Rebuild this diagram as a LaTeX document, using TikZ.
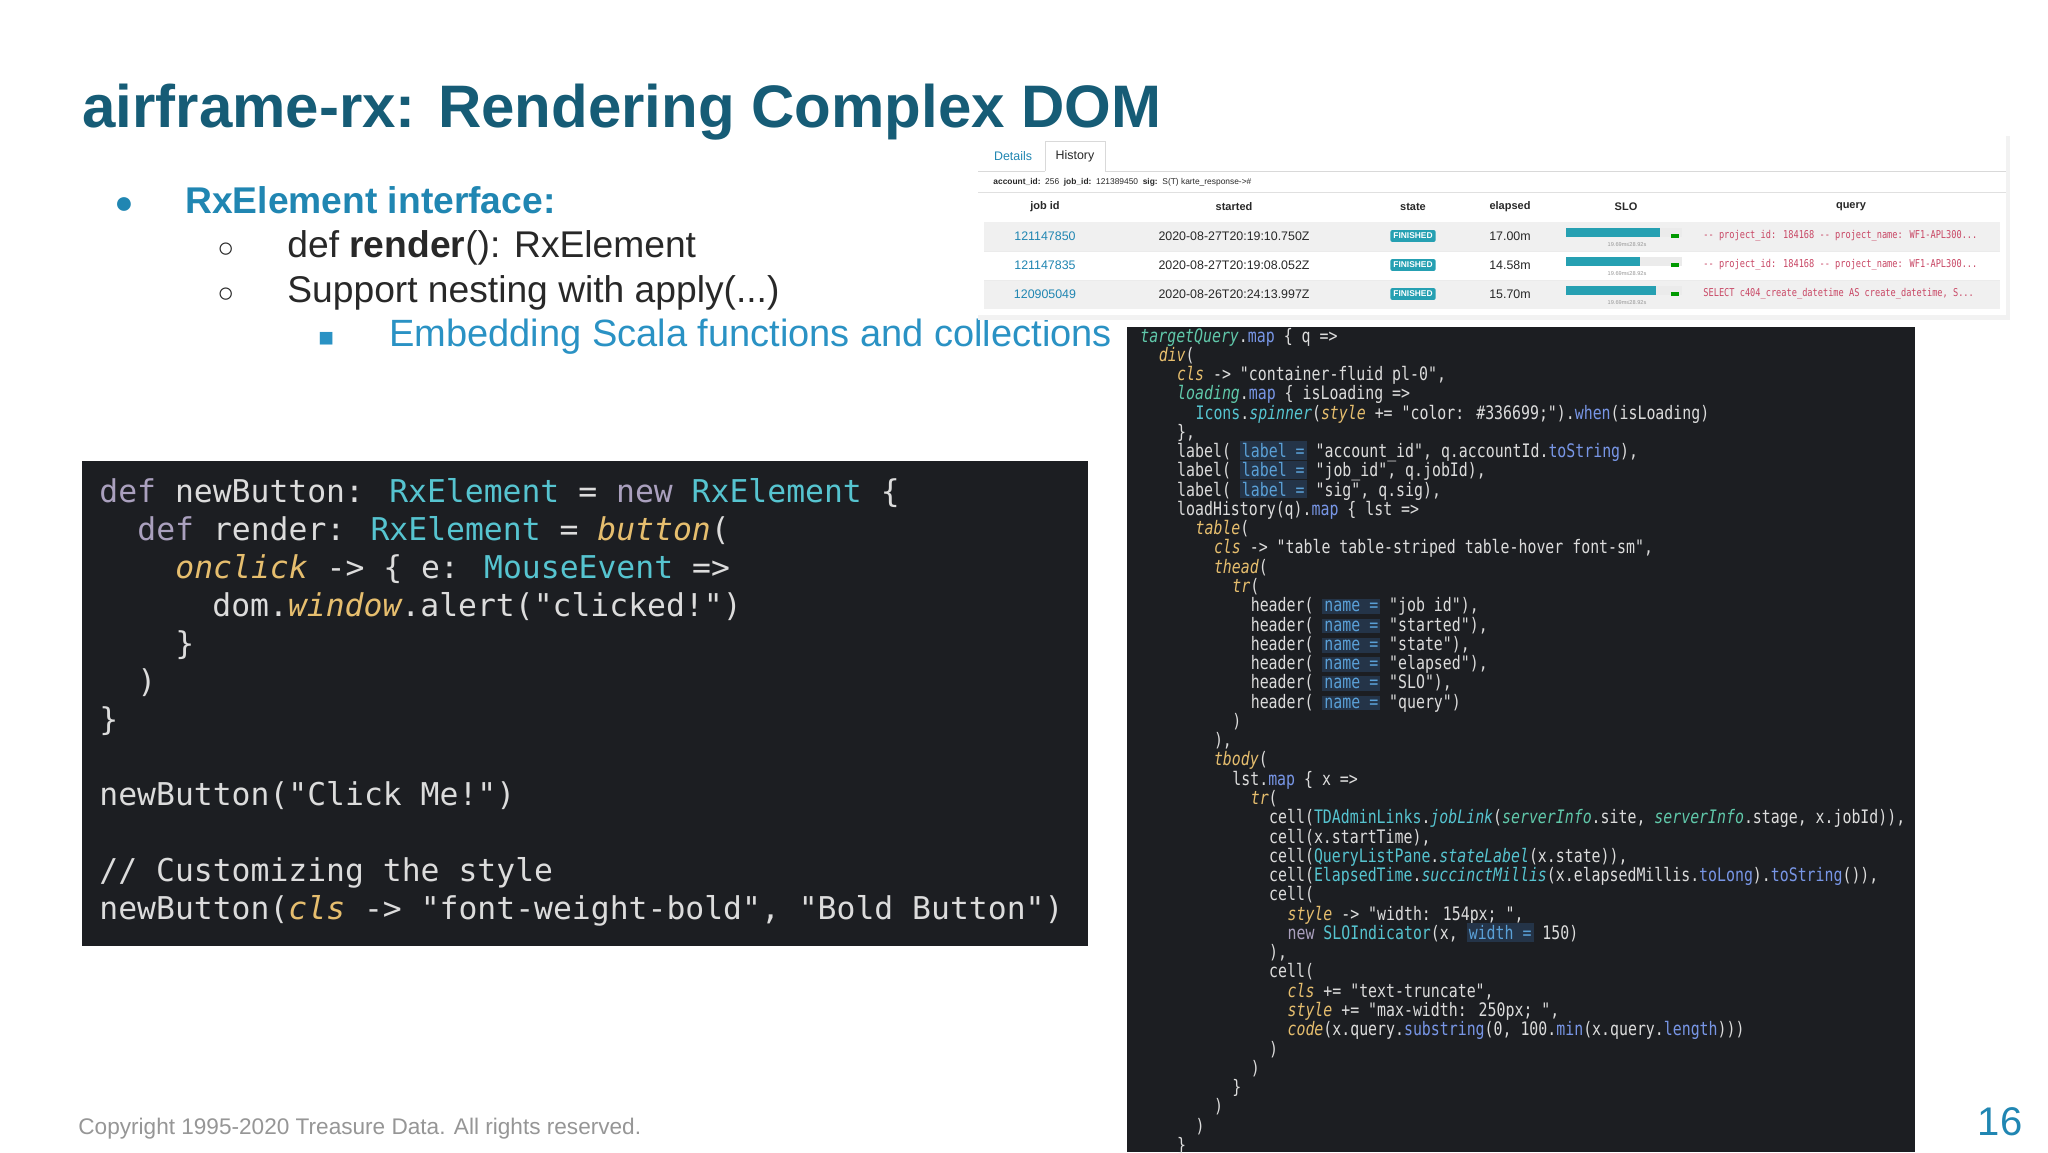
\documentclass[tikz,border=0pt]{standalone}
\usepackage{fontspec}
\setmainfont{Liberation Sans}
\newfontfamily\lmono{DejaVu Sans Mono}
\newfontfamily\rmono[FakeStretch=0.8]{DejaVu Sans Mono}
\definecolor{titlec}{RGB}{22,92,118}
\definecolor{bulc}{RGB}{32,134,178}
\definecolor{subc}{RGB}{42,146,196}
\definecolor{txt}{RGB}{40,40,40}
\definecolor{codebg}{RGB}{28,30,34}
\definecolor{cdef}{RGB}{220,220,220}
\definecolor{ckw}{RGB}{170,160,190}
\definecolor{ccy}{RGB}{86,196,208}
\definecolor{cye}{RGB}{230,190,110}
\definecolor{cgr}{RGB}{96,200,170}
\definecolor{cbl}{RGB}{120,150,230}
\definecolor{hlbg}{RGB}{36,52,72}
\definecolor{hlfg}{RGB}{90,160,215}
\definecolor{teal}{RGB}{38,160,178}
\definecolor{qred}{RGB}{200,70,100}
\definecolor{gray1}{RGB}{150,150,150}
\newcommand\KW[1]{\textcolor{ckw}{#1}}
\newcommand\CY[1]{\textcolor{ccy}{#1}}
\newcommand\YE[1]{\textcolor{cye}{\itshape #1}}
\newcommand\GR[1]{\textcolor{cgr}{\itshape #1}}
\newcommand\BL[1]{\textcolor{cbl}{#1}}
\newcommand\HL[1]{{\fboxsep=1pt\colorbox{hlbg}{\textcolor{hlfg}{#1}}}}
\begin{document}
\begin{tikzpicture}[x=0.5pt,y=-0.5pt,
  lc/.style={anchor=base west,inner sep=0,text=cdef,font=\lmono\fontsize{15.7}{18}\selectfont},
  rc/.style={anchor=base west,inner sep=0,text=cdef,font=\rmono\fontsize{9.3}{11}\selectfont},
  bul/.style={anchor=base west,inner sep=0,font=\fontsize{18.6}{22}\selectfont},
  tb/.style={inner sep=0,font=\fontsize{6.2}{7}\selectfont,text=txt},
  badge/.style={fill=teal,text=white,inner sep=1.5pt,rounded corners=1pt,font=\bfseries\fontsize{4.2}{5}\selectfont}]
\useasboundingbox (0,0) rectangle (2048,1152);
\fill[white] (0,0) rectangle (2048,1152);
% title
\node[anchor=base west,inner sep=0,text=titlec,font=\bfseries\fontsize{30}{36}\selectfont] (title) at (82,127) {airframe-rx: Rendering Complex DOM};
% bullets
\node[bul,text=bulc] (b1m) at (114,213) {\fontsize{16}{16}\selectfont●};
\node[bul,text=bulc,font=\bfseries\fontsize{18.6}{22}\selectfont] (b1) at (185,213) {RxElement interface:};
\node[bul,text=txt] (b2m) at (217,257) {\fontsize{14}{14}\selectfont○};
\node[bul,text=txt] (b2) at (287,257) {def \textbf{render}(): RxElement};
\node[bul,text=txt] (b3m) at (217,302) {\fontsize{14}{14}\selectfont○};
\node[bul,text=txt] (b3) at (287,302) {Support nesting with apply(...)};
\node[bul,text=subc] (b4m) at (318,346) {\fontsize{13}{13}\selectfont■};
\node[bul,text=subc,font=\fontsize{19}{22}\selectfont] (b4) at (389,346) {Embedding Scala functions and collections};
% left code
\fill[codebg] (82,461) rectangle (1088,946);
\node[lc] (l1) at (99,502) {\KW{def} newButton: \CY{RxElement} = \KW{new} \CY{RxElement} \{};
\node[lc] (l2) at (137,540) {\KW{def} render: \CY{RxElement} = \YE{button}(};
\node[lc] (l3) at (175,578) {\YE{onclick} -> \{ e: \CY{MouseEvent} =>};
\node[lc] (l4) at (212,616) {dom.\YE{window}.alert("clicked!")};
\node[lc] (l5) at (175,654) {\}};
\node[lc] (l6) at (137,692) {)};
\node[lc] (l7) at (99,730) {\}};
\node[lc] (l9) at (99,805) {newButton("Click Me!")};
\node[lc] (l11) at (99,881) {// Customizing the style};
\node[lc] (l12) at (99,919) {newButton(\YE{cls} -> "font-weight-bold", "Bold Button")};
% right code
\fill[codebg] (1127,327) rectangle (1915,1152);
\begin{scope}[shift={(1140,342)}]
\def\cw{9.2}\def\lh{19.27}
\node[rc] (r1) at (0,0) {\GR{targetQuery}.\BL{map} \{ q =>};
\node[rc] (r2) at (2*\cw,\lh) {\YE{div}(};
\node[rc] (r3) at (4*\cw,2*\lh) {\YE{cls} -> "container-fluid pl-0",};
\node[rc] (r4) at (4*\cw,3*\lh) {\GR{loading}.\BL{map} \{ isLoading =>};
\node[rc] (r5) at (6*\cw,4*\lh) {\CY{Icons}.\CY{\itshape spinner}(\YE{style} += "color: \#336699;").\BL{when}(isLoading)};
\node[rc] (r6) at (4*\cw,5*\lh) {\},};
\node[rc] (r7) at (4*\cw,6*\lh) {label( \HL{label =} "account\_id", q.accountId.\BL{toString}),};
\node[rc] (r8) at (4*\cw,7*\lh) {label( \HL{label =} "job\_id", q.jobId),};
\node[rc] (r9) at (4*\cw,8*\lh) {label( \HL{label =} "sig", q.sig),};
\node[rc] (r10) at (4*\cw,9*\lh) {loadHistory(q).\BL{map} \{ lst =>};
\node[rc] (r11) at (6*\cw,10*\lh) {\YE{table}(};
\node[rc] (r12) at (8*\cw,11*\lh) {\YE{cls} -> "table table-striped table-hover font-sm",};
\node[rc] (r13) at (8*\cw,12*\lh) {\YE{thead}(};
\node[rc] (r14) at (10*\cw,13*\lh) {\YE{tr}(};
\node[rc] (r15) at (12*\cw,14*\lh) {header( \HL{name =} "job id"),};
\node[rc] (r16) at (12*\cw,15*\lh) {header( \HL{name =} "started"),};
\node[rc] (r17) at (12*\cw,16*\lh) {header( \HL{name =} "state"),};
\node[rc] (r18) at (12*\cw,17*\lh) {header( \HL{name =} "elapsed"),};
\node[rc] (r19) at (12*\cw,18*\lh) {header( \HL{name =} "SLO"),};
\node[rc] (r20) at (12*\cw,19*\lh) {header( \HL{name =} "query")};
\node[rc] (r21) at (10*\cw,20*\lh) {)};
\node[rc] (r22) at (8*\cw,21*\lh) {),};
\node[rc] (r23) at (8*\cw,22*\lh) {\YE{tbody}(};
\node[rc] (r24) at (10*\cw,23*\lh) {lst.\BL{map} \{ x =>};
\node[rc] (r25) at (12*\cw,24*\lh) {\YE{tr}(};
\node[rc] (r26) at (14*\cw,25*\lh) {cell(\CY{TDAdminLinks}.\CY{\itshape jobLink}(\GR{serverInfo}.site, \GR{serverInfo}.stage, x.jobId)),};
\node[rc] (r27) at (14*\cw,26*\lh) {cell(x.startTime),};
\node[rc] (r28) at (14*\cw,27*\lh) {cell(\CY{QueryListPane}.\CY{\itshape stateLabel}(x.state)),};
\node[rc] (r29) at (14*\cw,28*\lh) {cell(\CY{ElapsedTime}.\CY{\itshape succinctMillis}(x.elapsedMillis.\BL{toLong}).\BL{toString}()),};
\node[rc] (r30) at (14*\cw,29*\lh) {cell(};
\node[rc] (r31) at (16*\cw,30*\lh) {\YE{style} -> "width: 154px; ",};
\node[rc] (r32) at (16*\cw,31*\lh) {\KW{new} \CY{SLOIndicator}(x, \HL{width =} 150)};
\node[rc] (r33) at (14*\cw,32*\lh) {),};
\node[rc] (r34) at (14*\cw,33*\lh) {cell(};
\node[rc] (r35) at (16*\cw,34*\lh) {\YE{cls} += "text-truncate",};
\node[rc] (r36) at (16*\cw,35*\lh) {\YE{style} += "max-width: 250px; ",};
\node[rc] (r37) at (16*\cw,36*\lh) {\YE{code}(x.query.\BL{substring}(0, 100.\BL{min}(x.query.\BL{length})))};
\node[rc] (r38) at (14*\cw,37*\lh) {)};
\node[rc] (r39) at (12*\cw,38*\lh) {)};
\node[rc] (r40) at (10*\cw,39*\lh) {\}};
\node[rc] (r41) at (8*\cw,40*\lh) {)};
\node[rc] (r42) at (6*\cw,41*\lh) {)};
\node[rc] (r43) at (4*\cw,42*\lh) {\}};
\end{scope}
% screenshot table
\fill[black!10] (980,137) rectangle (2008,318);
\fill[black!5] (978,136) rectangle (2010,320);
\fill[white] (978,135) rectangle (2006,315);
\draw[black!15,fill=white] (1045,171) -- (1045,141) -- (1105,141) -- (1105,171);
\draw[black!15] (978,171) -- (1045,171) (1105,171) -- (2006,171);
\node[tb,text=bulc] (tab1) at (1013,156) {Details};
\node[tb] (tab2) at (1075,156) {History};
\node[tb,anchor=west,font=\fontsize{4.2}{5}\selectfont] (info) at (993,182) {\textbf{account\_id:}\ \ 256\ \ \textbf{job\_id:}\ \ 121389450\ \ \textbf{sig:}\ \ S(T) karte\_response->\#};
\draw[black!12] (978,192) -- (2006,192);
\foreach \n/\x/\t in {h1/1045/job id,h2/1234/started,h3/1413/state,h4/1510/elapsed,h5/1626/SLO,h6/1851/query}
  \node[tb,font=\bfseries\fontsize{5.5}{6}\selectfont] (\n) at (\x,207) {\t};
\draw[black!15] (984,222) -- (2000,222);
\fill[black!6] (984,222) rectangle (2000,251);
\fill[black!6] (984,280) rectangle (2000,309);
\draw[black!8] (984,251) -- (2000,251) (984,280) -- (2000,280);
\foreach \n/\y/\id/\st/\el/\bw/\q in {
  a/236/121147850/2020-08-27T20:19:10.750Z/17.00m/1660/{-- project\_id: 184168 -- project\_name: WF1-APL300...},
  b/265/121147835/2020-08-27T20:19:08.052Z/14.58m/1640/{-- project\_id: 184168 -- project\_name: WF1-APL300...},
  c/294/120905049/2020-08-26T20:24:13.997Z/15.70m/1656/{SELECT c404\_create\_datetime AS create\_datetime, S...}}{
  \node[tb,text=bulc] (id\n) at (1045,\y) {\id};
  \node[tb] (st\n) at (1234,\y) {\st};
  \node[badge] (bd\n) at (1413,\y) {FINISHED};
  \node[tb] (el\n) at (1510,\y) {\el};
  \fill[black!8] (1566,\y-8) rectangle (1682,\y+1);
  \fill[teal] (1566,\y-8) rectangle (\bw,\y+1);
  \fill[green!60!black] (1671,\y-2) rectangle (1679,\y+2);
  \node[tb,font=\fontsize{2.8}{3}\selectfont,text=gray1] (sl\n) at (1627,\y+9) {19.69m≤28.92s};
  \node[tb,anchor=west,text=qred,font=\rmono\fontsize{5.4}{6}\selectfont] (q\n) at (1703,\y) {\q};
}
% footer
\node[anchor=base west,inner sep=0,text=gray1,font=\fontsize{11.3}{13}\selectfont] (copy) at (78,1134) {Copyright 1995-2020 Treasure Data. All rights reserved.};
\node[anchor=base,inner sep=0,text=bulc,font=\fontsize{20}{24}\selectfont] (pg) at (2000,1135) {16};
\end{tikzpicture}
\end{document}
